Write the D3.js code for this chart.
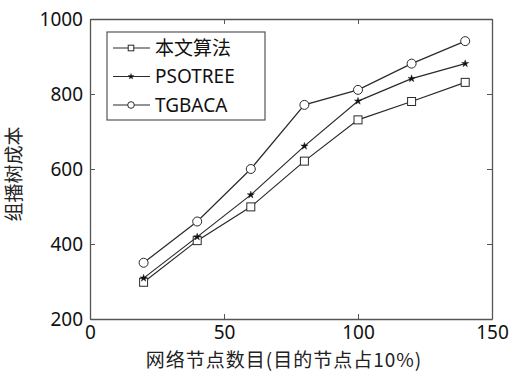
<!DOCTYPE html>
<html>
<head>
<meta charset="utf-8">
<script src="https://cdn.jsdelivr.net/npm/d3@7/dist/d3.min.js"></script>
<style>
  html, body { margin: 0; padding: 0; background: #fff; }
  svg { display: block; }
</style>
</head>
<body>
<div id="chart"></div>
<script>
(function() {
    'use strict';

    // 数据
    var nodeCounts = [20, 40, 60, 80, 100, 120, 140];
    var seriesNames = ['本文算法', 'PSOTREE', 'TGBACA'];
    var oursCost = [298, 409, 499, 621, 731, 780, 831];
    var psotreeCost = [309, 419, 531, 661, 781, 841, 881];
    var tgbacaCost = [350, 460, 600, 771, 811, 881, 941];
    var xTicks = [0, 50, 100, 150];
    var yTicks = [200, 400, 600, 800, 1000];
    var xLabel = '网络节点数目(目的节点占10%)';
    var yLabel = '组播树成本';

    var W = 510, H = 371;
    var margin = {left: 90, right: 18, top: 19, bottom: 52};
    var lineColor = '#2a2a2a';
    var axisColor = '#555';

    var svg = d3.select('#chart').append('svg')
        .attr('width', W).attr('height', H);

    var x = d3.scaleLinear().domain([0, 150]).range([margin.left, W - margin.right]);
    var y = d3.scaleLinear().domain([200, 1000]).range([H - margin.bottom, margin.top]);

    var series = [
        {name: seriesNames[0], values: oursCost, marker: 'square'},
        {name: seriesNames[1], values: psotreeCost, marker: 'star'},
        {name: seriesNames[2], values: tgbacaCost, marker: 'circle'}
    ];

    // 坐标轴（MATLAB 风格，刻度朝内）
    var tickFont = '"Noto Sans", "Open Sans", sans-serif';
    var fmt = d3.format('d');
    var bottom = svg.append('g').attr('transform', 'translate(0,' + y.range()[0] + ')')
        .call(d3.axisBottom(x).tickValues(xTicks).tickFormat(fmt).tickSizeInner(-5).tickSizeOuter(0).tickPadding(5));
    var top = svg.append('g').attr('transform', 'translate(0,' + y.range()[1] + ')')
        .call(d3.axisTop(x).tickValues(xTicks).tickSizeInner(-5).tickSizeOuter(0).tickFormat(''));
    var left = svg.append('g').attr('transform', 'translate(' + x.range()[0] + ',0)')
        .call(d3.axisLeft(y).tickValues(yTicks).tickFormat(fmt).tickSizeInner(-5).tickSizeOuter(0).tickPadding(7));
    var right = svg.append('g').attr('transform', 'translate(' + x.range()[1] + ',0)')
        .call(d3.axisRight(y).tickValues(yTicks).tickSizeInner(-5).tickSizeOuter(0).tickFormat(''));

    [bottom, top, left, right].forEach(function(a) {
        a.select('.domain').attr('stroke', axisColor).attr('stroke-width', 1.3);
        a.selectAll('.tick line').attr('stroke', axisColor).attr('stroke-width', 1);
        a.selectAll('text').attr('fill', '#111').style('font-family', tickFont).style('font-size', '19px');
    });
    bottom.selectAll('text').attr('dy', '0.78em');
    left.selectAll('text').attr('dy', '0.35em');

    // 轴标签
    var cjkFont = '"Noto Sans CJK SC", sans-serif';
    svg.append('text')
        .attr('x', 284).attr('y', 367)
        .attr('text-anchor', 'middle')
        .style('font-family', cjkFont).style('font-size', '19px')
        .style('letter-spacing', '1px')
        .attr('fill', '#222')
        .text(xLabel);
    svg.append('text')
        .attr('transform', 'translate(21,174) rotate(-90)')
        .attr('text-anchor', 'middle')
        .style('font-family', cjkFont).style('font-size', '19px')
        .attr('fill', '#222')
        .text(yLabel);

    // 标记
    function drawMarker(g, type, cx, cy, s, starSize) {
        if (type === 'square') {
            g.append('rect').attr('x', cx - s).attr('y', cy - s)
                .attr('width', 2 * s).attr('height', 2 * s)
                .attr('fill', '#fff').attr('stroke', lineColor).attr('stroke-width', 1);
        } else if (type === 'circle') {
            g.append('circle').attr('cx', cx).attr('cy', cy).attr('r', s + 0.5)
                .attr('fill', '#fff').attr('stroke', lineColor).attr('stroke-width', 1);
        } else {
            g.append('path')
                .attr('d', d3.symbol().type(d3.symbolStar).size(starSize)())
                .attr('transform', 'translate(' + cx + ',' + cy + ')')
                .attr('fill', '#111').attr('stroke', '#111').attr('stroke-width', 0.4);
        }
    }

    var line = d3.line()
        .x(function(d, i) { return x(nodeCounts[i]); })
        .y(function(d) { return y(d); });

    series.forEach(function(s) {
        var g = svg.append('g');
        g.append('path').datum(s.values)
            .attr('d', line)
            .attr('fill', 'none')
            .attr('stroke', lineColor)
            .attr('stroke-width', 1.2);
        s.values.forEach(function(v, i) {
            drawMarker(g, s.marker, x(nodeCounts[i]), y(v), 4, 16);
        });
    });

    // 图例
    var legend = svg.append('g');
    legend.append('rect')
        .attr('x', 107).attr('y', 32).attr('width', 158).attr('height', 88)
        .attr('fill', '#fff').attr('stroke', axisColor).attr('stroke-width', 1.2);
    var legendFonts = [cjkFont, tickFont, tickFont];
    series.forEach(function(s, i) {
        var cy = 48 + i * 28.5;
        legend.append('line')
            .attr('x1', 113).attr('x2', 150).attr('y1', cy).attr('y2', cy)
            .attr('stroke', lineColor).attr('stroke-width', 1.2);
        drawMarker(legend, s.marker, 131, cy, 2.8, 10);
        legend.append('text')
            .attr('x', 155).attr('y', cy).attr('dy', '0.36em')
            .style('font-family', legendFonts[i]).style('font-size', '19px')
            .attr('fill', '#111')
            .text(s.name);
    });
})();
</script>
</body>
</html>
